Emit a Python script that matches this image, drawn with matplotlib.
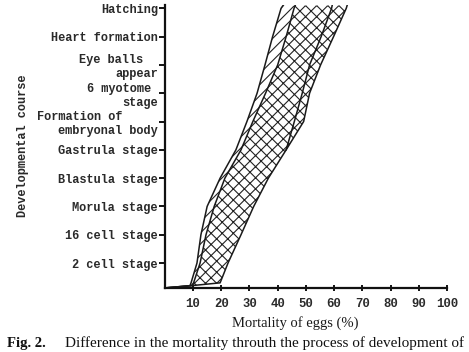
import matplotlib
matplotlib.use("Agg")
import matplotlib.pyplot as plt

# ---- data ----
stages = ["2 cell stage", "16 cell stage", "Morula stage", "Blastula stage",
          "Gastrula stage", "Formation of     \nembryonal body", "6 myotome \nstage",
          "Eye balls  \nappear", "Heart formation", "Hatching"]
stage_pos = [1, 2, 3, 4, 5, 6, 7, 8, 9, 10]
x_ticks = [10, 20, 30, 40, 50, 60, 70, 80, 90, 100]

# common developmental levels for the boundary curves
levels = [0.12, 0.2, 0.3, 1, 2, 3, 4, 5, 6, 7, 8, 9, 10, 10.1]
left_outer = [0.0, 8.9, 9.3, 11.4, 12.8, 15.0, 19.6, 25.2, 29.1, 32.7, 35.5, 38.2, 41.2, 41.9]
left_inner = [0.0, 9.4, 10.2, 12.5, 14.6, 17.5, 21.3, 27.0, 31.2, 35.7, 40.0, 43.0, 45.8, 46.2]
right_outer = [0.0, 9.4, 19.6, 22.4, 27.0, 31.5, 36.7, 43.0, 49.2, 51.3, 55.2, 59.8, 64.3, 64.6]
# inner line within the cross-hatched band (upper part only)
mid_levels = [5, 6, 7, 8, 9, 10, 10.1]
mid_line = [43.0, 45.9, 48.7, 51.3, 55.4, 59.1, 59.3]

plt.rcParams['hatch.linewidth'] = 0.8
plt.rcParams['hatch.color'] = '#222222'

fig = plt.figure(figsize=(4.69, 3.52), dpi=100)
ax = fig.add_axes([0.3514, 0.1804, 0.6017, 0.804])

ax.fill_betweenx(levels, left_outer, left_inner, facecolor='none',
                 edgecolor='#222222', hatch='///', linewidth=0)
ax.fill_betweenx(levels, left_inner, right_outer, facecolor='none',
                 edgecolor='#222222', hatch='xxx', linewidth=0)
for xs, ys in [(left_outer, levels), (left_inner, levels), (right_outer, levels),
               (mid_line, mid_levels)]:
    ax.plot(xs, ys, color='#1a1a1a', lw=1.1, solid_joinstyle='round')

ax.set_xlim(0, 100)
ax.set_ylim(0.1, 10.1)
for s in ['top', 'right']:
    ax.spines[s].set_visible(False)
for s in ['left', 'bottom']:
    ax.spines[s].set_linewidth(1.6)
    ax.spines[s].set_color('#111111')

mono = 'Liberation Mono'
ax.set_yticks(stage_pos)
ax.set_yticklabels(stages, family=mono, fontsize=8.6, fontweight='bold', color='#2a2a2a')
ax.set_xticks(x_ticks)
ax.set_xticklabels([str(v) for v in x_ticks], family=mono, fontsize=8.8,
                   fontweight='bold', color='#2a2a2a')
ax.tick_params(axis='y', direction='out', length=4, width=1.3, pad=1)
ax.tick_params(axis='x', direction='inout', length=5, width=1.3, pad=4)

fig.text(0.05, 0.585, "Developmental course", rotation=90, family=mono,
         fontsize=8.6, fontweight='bold', ha='center', va='center', color='#2a2a2a')
fig.text(0.629, 0.082, "Mortality of eggs (%)", family='Liberation Serif',
         fontsize=10.5, ha='center', va='center', color='#1a1a1a')
fig.text(0.015, 0.025, "Fig. 2.", family='Liberation Serif', fontsize=10.5,
         fontweight='bold', ha='left', va='center', color='#111111')
fig.text(0.139, 0.025, "Difference in the mortality throuth the process of development of",
         family='Liberation Serif', fontsize=11, ha='left', va='center', color='#111111')

fig.savefig("out.png", dpi=100)
